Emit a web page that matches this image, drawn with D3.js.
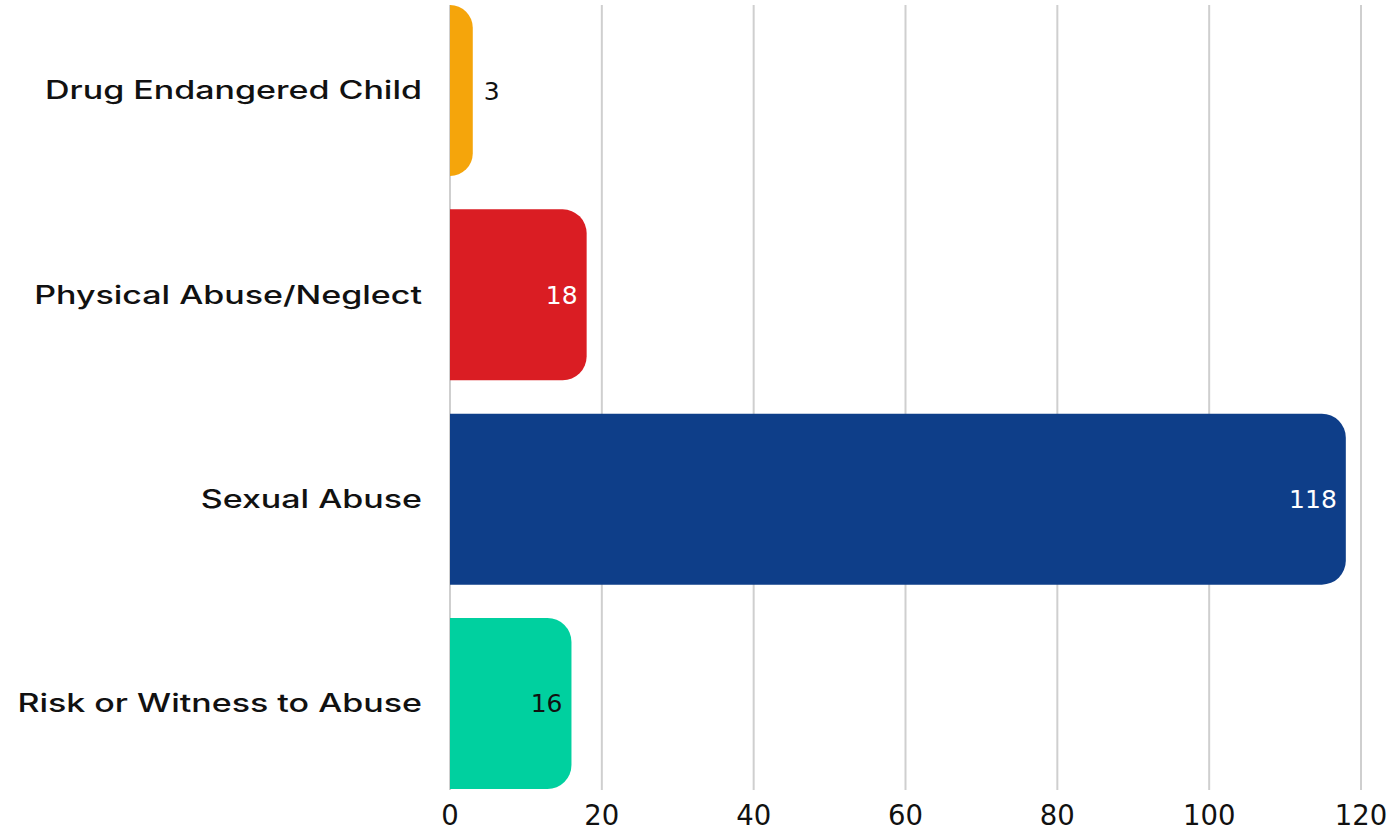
<!DOCTYPE html>
<html><head><meta charset="utf-8">
<script src="https://cdn.jsdelivr.net/npm/d3@7"></script>
<style>body{margin:0;background:#fff}svg{display:block}</style>
</head><body>
<svg id="c" width="1397" height="832"></svg>
<script>
const categories = ["Drug Endangered Child","Physical Abuse/Neglect","Sexual Abuse","Risk or Witness to Abuse"];
const values = [3, 18, 118, 16];
const colors = ["#F5A50B","#DA1D23","#0E3E89","#00D09F"];
const labelColors = ["#111","#fff","#fff","#111"];
const ticks = [0,20,40,60,80,100,120];

const svg = d3.select("#c");
const x = d3.scaleLinear().domain([0,120]).range([450,1361]);
const y = d3.scaleBand().domain(categories).range([5,789]).paddingInner(0.163).paddingOuter(0);

// grid
svg.append("g").selectAll("line").data(ticks).join("line")
  .attr("x1",d=>x(d)).attr("x2",d=>x(d)).attr("y1",5).attr("y2",790)
  .attr("stroke","#cfcfcf").attr("stroke-width",2);

// bars
function barPath(x0,x1,y0,h,r){
  r = Math.min(r,(x1-x0),h/2);
  return `M${x0},${y0}H${x1-r}A${r},${r} 0 0 1 ${x1},${y0+r}V${y0+h-r}A${r},${r} 0 0 1 ${x1-r},${y0+h}H${x0}Z`;
}
svg.append("g").selectAll("path").data(categories).join("path")
  .attr("d",(c,i)=>barPath(x(0),x(values[i]),y(c),y.bandwidth(),24))
  .attr("fill",(c,i)=>colors[i]);

// value labels
svg.append("g").selectAll("text").data(categories).join("text")
  .attr("x",(c,i)=> values[i] < 8 ? x(values[i])+11 : x(values[i])-9)
  .attr("y",c=>y(c)+y.bandwidth()/2)
  .attr("dy","0.36em")
  .attr("text-anchor",(c,i)=> values[i] < 8 ? "start" : "end")
  .attr("font-family","DejaVu Sans")
  .attr("font-size",25)
  .attr("fill",(c,i)=>labelColors[i])
  .text((c,i)=>values[i]);

// category labels (wide grotesque look: stretched horizontally)
svg.append("g").attr("transform","translate(422,0) scale(1.36,1)")
  .selectAll("text").data(categories).join("text")
  .attr("x",0).attr("y",c=>y(c)+y.bandwidth()/2)
  .attr("dy","0.36em").attr("text-anchor","end")
  .attr("font-family","Inter, 'Noto Sans', sans-serif")
  .attr("font-weight",500)
  .attr("font-size",25)
  .attr("fill","#111")
  .text(c=>c);

// x axis tick labels
svg.append("g").selectAll("text").data(ticks).join("text")
  .attr("x",d=>x(d)).attr("y",815).attr("dy","0.36em")
  .attr("text-anchor","middle")
  .attr("font-family","DejaVu Sans")
  .attr("font-size",27.5)
  .attr("fill","#111")
  .text(d=>d);
</script>
</body></html>
